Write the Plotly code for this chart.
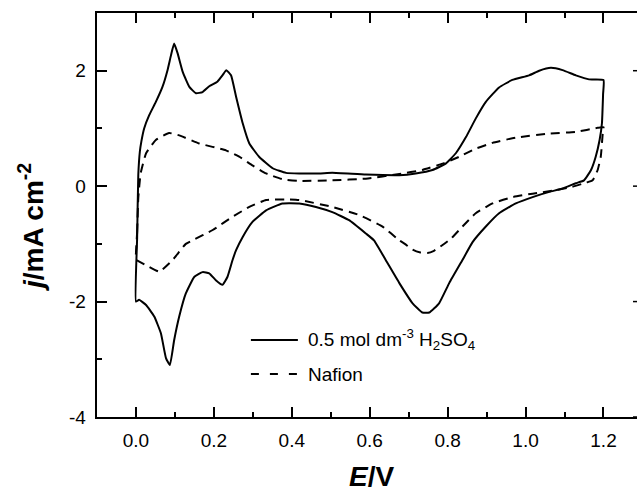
import plotly.graph_objects as go

# ---- data ----
E_acid = [0.0, 0.003, 0.006, 0.010, 0.014, 0.021, 0.034, 0.051, 0.068, 0.081, 0.090, 0.098,
          0.107, 0.120, 0.137, 0.154, 0.171, 0.188, 0.209, 0.222, 0.232, 0.244, 0.257, 0.274,
          0.291, 0.316, 0.351, 0.385, 0.419, 0.470, 0.504, 0.590, 0.676, 0.718, 0.761, 0.795,
          0.821, 0.847, 0.872, 0.898, 0.932, 0.966, 1.009, 1.035, 1.065, 1.095, 1.129, 1.163,
          1.200,
          1.199, 1.196, 1.190, 1.180, 1.168, 1.150, 1.129, 1.095, 1.061, 1.018, 0.975, 0.932,
          0.898, 0.864, 0.838, 0.804, 0.778, 0.753, 0.735, 0.710, 0.676, 0.641, 0.611, 0.590,
          0.547, 0.504, 0.462, 0.419, 0.376, 0.334, 0.299, 0.274, 0.257, 0.248, 0.235, 0.222,
          0.205, 0.188, 0.171, 0.150, 0.128, 0.111, 0.098, 0.087, 0.077, 0.064, 0.047, 0.026,
          0.008, 0.0]
j_acid = [-2.0, -0.9, 0.2, 0.6, 0.78, 1.0, 1.23, 1.46, 1.72, 2.01, 2.27, 2.47,
          2.30, 1.98, 1.72, 1.61, 1.63, 1.73, 1.81, 1.92, 2.01, 1.92, 1.55, 1.09,
          0.74, 0.51, 0.31, 0.23, 0.22, 0.22, 0.23, 0.20, 0.19, 0.22, 0.28, 0.39,
          0.57, 0.85, 1.17, 1.46, 1.71, 1.84, 1.92, 2.0, 2.05, 2.01, 1.92, 1.85,
          1.84,
          1.6, 1.09, 0.80, 0.51, 0.28, 0.10, 0.05, -0.04, -0.10, -0.19, -0.30, -0.47,
          -0.70, -0.97, -1.28, -1.68, -2.03, -2.19, -2.19, -2.03, -1.68, -1.28, -0.94, -0.82,
          -0.59, -0.45, -0.36, -0.30, -0.30, -0.42, -0.62, -0.88, -1.11, -1.28, -1.57, -1.71,
          -1.63, -1.51, -1.49, -1.57, -1.86, -2.26, -2.67, -3.10, -2.98, -2.55, -2.26, -2.06,
          -1.97, -2.0]

E_nafion = [0.0, 0.003, 0.006, 0.012, 0.026, 0.051, 0.085, 0.111, 0.162, 0.231, 0.265, 0.299,
            0.334, 0.376, 0.419, 0.504, 0.590, 0.676, 0.735, 0.787, 0.830, 0.872, 0.915, 0.975,
            1.061, 1.129, 1.185, 1.200,
            1.198, 1.193, 1.185, 1.172, 1.155, 1.120, 1.078, 1.018, 0.966, 0.915, 0.872, 0.838,
            0.810, 0.787, 0.765, 0.748, 0.730, 0.710, 0.690, 0.676, 0.633, 0.573, 0.504, 0.419,
            0.393, 0.334, 0.291, 0.248, 0.197, 0.145, 0.128, 0.094, 0.060, 0.026, 0.004, 0.0]
j_nafion = [-1.28, -0.8, -0.2, 0.22, 0.57, 0.80, 0.92, 0.88, 0.74, 0.62, 0.51, 0.36,
            0.22, 0.12, 0.09, 0.10, 0.13, 0.21, 0.28, 0.39, 0.51, 0.65, 0.75, 0.84,
            0.91, 0.94, 1.01, 1.02,
            0.91, 0.51, 0.28, 0.10, 0.06, -0.01, -0.07, -0.13, -0.19, -0.30, -0.47, -0.70,
            -0.90, -1.02, -1.12, -1.16, -1.15, -1.10, -1.00, -0.94, -0.70, -0.50, -0.36, -0.24,
            -0.23, -0.24, -0.36, -0.53, -0.76, -0.94, -1.00, -1.28, -1.48, -1.37, -1.29, -1.28]

series_names = ["0.5 mol dm<sup>-3</sup> H<sub>2</sub>SO<sub>4</sub>", "Nafion"]
y_tickvals = [-4, -2, 0, 2]
y_ticktext = ["-4 ", "-2 ", "0 ", "2 "]
x_tickvals = [0.0, 0.2, 0.4, 0.6, 0.8, 1.0, 1.2]
x_ticktext = ["0.0", "0.2", "0.4", "0.6", "0.8", "1.0", "1.2"]
x_title = "<b><i>E</i>/V</b>"
y_title = "<b><i>j</i>/mA cm<sup>-2</sup></b>"

FONT = "Arial, Liberation Sans, Helvetica, sans-serif"

fig = go.Figure()
fig.add_trace(go.Scatter(x=E_acid, y=j_acid, mode="lines", name=series_names[0],
                         line=dict(color="black", width=2, shape="spline", smoothing=0.4),
                         showlegend=False))
fig.add_trace(go.Scatter(x=E_nafion, y=j_nafion, mode="lines", name=series_names[1],
                         line=dict(color="black", width=2, dash="9px,6px", shape="spline", smoothing=0.4),
                         showlegend=False))

# manual legend (line samples + texts)
leg_rows = [0.1906, 0.1064]
for i, (name, dash) in enumerate(zip(series_names, ["solid", "8px,11px"])):
    fig.add_shape(type="line", xref="paper", yref="paper",
                  x0=0.285, x1=0.372, y0=leg_rows[i], y1=leg_rows[i],
                  line=dict(color="black", width=2, dash=dash))
    fig.add_annotation(xref="paper", yref="paper", x=0.387, y=leg_rows[i],
                       xanchor="left", yanchor="middle", showarrow=False,
                       text=name, font=dict(family=FONT, size=19, color="black"))

# right-hand frame ticks (the frame itself lies just outside the picture)
for v in y_tickvals:
    fig.add_shape(type="line", xref="paper", yref="y", x0=0.9926, x1=1.0, y0=v, y1=v,
                  line=dict(color="black", width=1.5))

# axis titles placed as annotations for exact positioning
fig.add_annotation(xref="paper", yref="paper", x=0.509, y=-0.148,
                   xanchor="center", yanchor="middle", showarrow=False,
                   text=x_title, font=dict(family=FONT, size=28, color="black"))
fig.add_annotation(xref="paper", yref="paper", x=-0.122, y=0.468,
                   xanchor="center", yanchor="middle", showarrow=False, textangle=-90,
                   text=y_title, font=dict(family=FONT, size=28, color="black"))

fig.update_layout(
    width=637, height=490,
    margin=dict(l=97, r=0, t=13, b=73),
    plot_bgcolor="white", paper_bgcolor="white",
    font=dict(family=FONT, size=19, color="black"),
    xaxis=dict(range=[-0.1, 1.286], showline=True, linewidth=2, linecolor="black",
               mirror="ticks", ticks="inside", ticklen=10, tickwidth=2, tickcolor="black",
               tickmode="array", tickvals=x_tickvals, ticktext=x_ticktext,
               minor=dict(ticks="inside", ticklen=5, tickwidth=2, tickcolor="black",
                          tickmode="linear", tick0=0, dtick=0.1),
               showgrid=False, zeroline=False, ticklabelstandoff=5),
    yaxis=dict(range=[-4, 3], showline=True, linewidth=2, linecolor="black",
               mirror=False, ticks="inside", ticklen=10, tickwidth=2, tickcolor="black",
               tickmode="array", tickvals=y_tickvals, ticktext=y_ticktext,
               minor=dict(ticks="inside", ticklen=5, tickwidth=2, tickcolor="black",
                          tickmode="linear", tick0=0, dtick=1),
               showgrid=False, zeroline=False),
)

fig.write_html("out.html", config={"displayModeBar": False},
               post_script="document.body.style.margin='0px';document.body.style.overflow='hidden';")
